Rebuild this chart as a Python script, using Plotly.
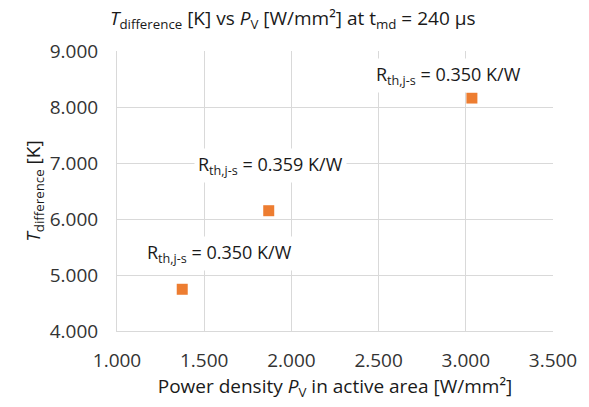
import plotly.graph_objects as go

power_density = [1.374, 1.870, 3.035]
t_difference = [4.745, 6.148, 8.160]
labels = ["R<sub>th,j-s</sub> = 0.350 K/W", "R<sub>th,j-s</sub> = 0.359 K/W", "R<sub>th,j-s</sub> = 0.350 K/W"]
label_x = [1.585, 1.878, 2.903]
label_y = [5.39, 6.95, 8.57]
x_ticks = [1.0, 1.5, 2.0, 2.5, 3.0, 3.5]
y_ticks = [4.0, 5.0, 6.0, 7.0, 8.0, 9.0]

FONT = "Open Sans"
TXT = "#1a1a1a"
fig = go.Figure()
fig.add_trace(go.Scatter(
    x=power_density, y=t_difference, mode="markers",
    marker=dict(symbol="square", size=11, color="#ED7D31", line=dict(width=0)),
    showlegend=False, hoverinfo="skip"))

for lx, ly, t in zip(label_x, label_y, labels):
    fig.add_annotation(x=lx, y=ly, xref="x", yref="y", text=t, showarrow=False,
                       bgcolor="white", font=dict(family=FONT, size=18, color=TXT),
                       borderpad=3)

fig.update_layout(
    width=589, height=407,
    margin=dict(l=117, r=32, t=51, b=76),
    paper_bgcolor="white", plot_bgcolor="white",
    font=dict(family=FONT, color=TXT),
    title=dict(text="<i>T</i><sub>difference</sub> [K] vs <i>P</i><sub>V</sub> [W/mm²] at t<sub>md</sub> = 240 µs",
               x=0.497, xanchor="center", y=0.955, yanchor="middle",
               font=dict(family=FONT, size=19, color=TXT)),
    xaxis=dict(range=[1.0, 3.5], tickvals=x_ticks, ticktext=[f"{v:.3f}" for v in x_ticks],
               showgrid=True, gridcolor="#D9D9D9", gridwidth=1, zeroline=False,
               showline=True, linecolor="#D9D9D9", ticks="", ticklabelstandoff=12,
               tickfont=dict(family=FONT, size=19, color="#333333"),
               title=dict(text="Power density <i>P</i><sub>V</sub> in active area [W/mm²]",
                          font=dict(family=FONT, size=19, color=TXT), standoff=6)),
    yaxis=dict(range=[4.0, 9.0], tickvals=y_ticks, ticktext=[f"{v:.3f}" for v in y_ticks],
               showgrid=True, gridcolor="#D9D9D9", gridwidth=1, zeroline=False,
               showline=True, linecolor="#D9D9D9", ticks="", ticklabelstandoff=14,
               tickfont=dict(family=FONT, size=19, color="#333333"),
               title=dict(text="<i>T</i><sub>difference</sub> [K]",
                          font=dict(family=FONT, size=19, color=TXT), standoff=4)),
)
fig.write_html("out.html")
